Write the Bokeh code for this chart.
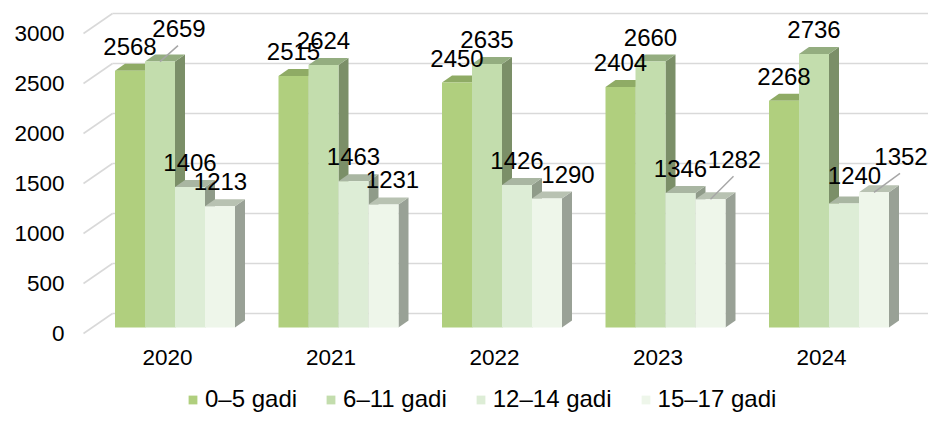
import numpy as np
from bokeh.plotting import figure
from bokeh.models import (ColumnDataSource, Range1d, LinearAxis, FixedTicker,
                          Legend, LegendItem)
from bokeh.core.properties import value
from bokeh.embed import file_html
from bokeh.resources import INLINE

# ---------------- data ----------------
years = ["2020", "2021", "2022", "2023", "2024"]
series_names = ["0–5 gadi", "6–11 gadi", "12–14 gadi", "15–17 gadi"]
age_0_5 = [2568, 2515, 2450, 2404, 2268]
age_6_11 = [2659, 2624, 2635, 2660, 2736]
age_12_14 = [1406, 1463, 1426, 1346, 1240]
age_15_17 = [1213, 1231, 1290, 1282, 1352]
y_ticks = [0, 500, 1000, 1500, 2000, 2500, 3000]

series_values = [age_0_5, age_6_11, age_12_14, age_15_17]

# ---------------- styles ----------------
front_colors = ["#b0cf7e", "#c3ddad", "#ddedd6", "#eef6ea"]
top_colors = ["#8fab65", "#94ad80", "#a9b6a2", "#b8c2b2"]
side_colors = ["#7d955a", "#7b8f68", "#8f9b89", "#99a196"]
grid_color = "#d9d9d9"
FONT = "Liberation Sans"

PX_X = 163.5        # pixels per category step
PX_Y = 0.1          # pixels per value unit
CAT0 = 174.5        # pixel of first category centre
BASE = 327          # pixel of value 0 on the bar fronts
BAR_W = 30 / PX_X   # bar width in category units
DEPTH_X = 10 / PX_X  # 3-D side depth
DEPTH_Y = 7 / PX_Y

# label offsets in pixels, relative to bar top centre
label_dx = [[0, 0, 0, 0, 0],
            [19, 0, 0, 0, 0],
            [0, 0, 0, 0, 10.5],
            [0.5, 9, 21, 24, 27]]
label_dy = [[-24.5] * 5,
            [-33, -24.5, -24.5, -24.5, -24.5],
            [-24.5, -24.5, -24.5, -24.5, -28],
            [-25, -25, -24.5, -40, -36]]
leader = [[False] * 5,
          [True, False, False, False, False],
          [False] * 5,
          [False, False, False, True, True]]

W, H = 928, 412
frame_left = 82
axis_px = 338       # where the category axis sits
x_start = (frame_left - CAT0) / PX_X
x_end = (W - CAT0) / PX_X
y_end = BASE / PX_Y
y_start = (BASE - H) / PX_Y

p = figure(width=W, height=H, output_backend="svg", toolbar_location=None,
           x_range=Range1d(x_start, x_end), y_range=Range1d(y_start, y_end),
           x_axis_location=None, y_axis_location=None,
           min_border_left=frame_left, min_border_right=0, min_border_top=0,
           min_border_bottom=0)
p.outline_line_color = None
p.background_fill_color = "white"
p.border_fill_color = "white"
p.grid.visible = False

# axes (front plane is slightly below / left of bar fronts)
p.extra_y_ranges = {"yaxis": Range1d(y_start + 60, y_end + 60)}
p.extra_x_ranges = {"xaxis": Range1d(x_start + 7.5 / PX_X, x_end + 7.5 / PX_X)}

yax = LinearAxis(y_range_name="yaxis", ticker=FixedTicker(ticks=y_ticks))
xax = LinearAxis(x_range_name="xaxis", ticker=FixedTicker(ticks=list(range(len(years)))),
                 major_label_overrides={i: y for i, y in enumerate(years)},
                 fixed_location=(BASE - axis_px) / PX_Y)
for ax in (yax, xax):
    ax.axis_line_color = None
    ax.major_tick_line_color = None
    ax.minor_tick_line_color = None
    ax.major_tick_out = 0
    ax.major_tick_in = 0
    ax.major_label_text_font = FONT
    ax.major_label_text_font_size = "22.5px"
    ax.major_label_text_color = "#000000"
yax.major_label_standoff = 18
xax.major_label_standoff = 11
p.add_layout(yax, "left")
p.add_layout(xax, "below")

# gridlines: back wall + floor slant
back_left = (112 - CAT0) / PX_X
front_left = (83 - CAT0) / PX_X
right_end = (W - CAT0) / PX_X
gt = np.array(y_ticks, dtype=float)
p.segment(x0=[back_left] * len(gt), y0=gt + 140, x1=[right_end] * len(gt), y1=gt + 140,
          line_color=grid_color, line_width=1.6)
p.segment(x0=[front_left] * len(gt), y0=gt - 60, x1=[back_left] * len(gt), y1=gt + 140,
          line_color=grid_color, line_width=1.6)

# bars
centers = np.arange(len(years), dtype=float)
front_renderers = []
for s, vals in enumerate(series_values):
    v = np.array(vals, dtype=float)
    xc = centers + (s - 1.5) * BAR_W
    l = xc - BAR_W / 2
    r = xc + BAR_W / 2
    side_xs = [[ri, ri + DEPTH_X, ri + DEPTH_X, ri] for ri in r]
    side_ys = [[0, DEPTH_Y, vi + DEPTH_Y, vi] for vi in v]
    top_xs = [[li, li + DEPTH_X, ri + DEPTH_X, ri] for li, ri in zip(l, r)]
    top_ys = [[vi, vi + DEPTH_Y, vi + DEPTH_Y, vi] for vi in v]
    p.patches(xs=side_xs, ys=side_ys, fill_color=side_colors[s], line_color=None)
    p.patches(xs=top_xs, ys=top_ys, fill_color=top_colors[s], line_color=None)
    src = ColumnDataSource(dict(left=l, right=r, top=v, bottom=np.zeros_like(v)))
    fr = p.quad(left="left", right="right", top="top", bottom="bottom", source=src,
                fill_color=front_colors[s], line_color=None)
    front_renderers.append(fr)

# leader lines and data labels
for s, vals in enumerate(series_values):
    v = np.array(vals, dtype=float)
    xc = centers + (s - 1.5) * BAR_W
    idx = [i for i in range(len(v)) if leader[s][i]]
    if idx:
        p.segment(x0=[xc[i] for i in idx], y0=[v[i] for i in idx],
                  x1=[xc[i] + (label_dx[s][i] - 1) / PX_X for i in idx],
                  y1=[v[i] - (label_dy[s][i] + 17) / PX_Y for i in idx],
                  line_color="#a6a6a6", line_width=1.5)
    src = ColumnDataSource(dict(x=xc, y=v, t=[str(int(a)) for a in v],
                                dx=label_dx[s], dy=label_dy[s]))
    p.text(x="x", y="y", text="t", x_offset="dx", y_offset="dy", source=src,
           text_align="center", text_baseline="middle",
           text_font=value(FONT), text_font_size=value("24px"), text_color="#000000")

# legend inside the (tall) frame, under the category axis
items = [LegendItem(label=n, renderers=[r]) for n, r in zip(series_names, front_renderers)]
legend = Legend(items=items, orientation="horizontal", location=(187 - frame_left, -1),
                glyph_width=11, glyph_height=11, label_standoff=7, spacing=28,
                label_text_font=FONT, label_text_font_size="24px",
                label_text_color="#000000", padding=0, margin=0,
                border_line_color=None, background_fill_alpha=0)
p.add_layout(legend)

open("out.html", "w").write(file_html(p, INLINE))
